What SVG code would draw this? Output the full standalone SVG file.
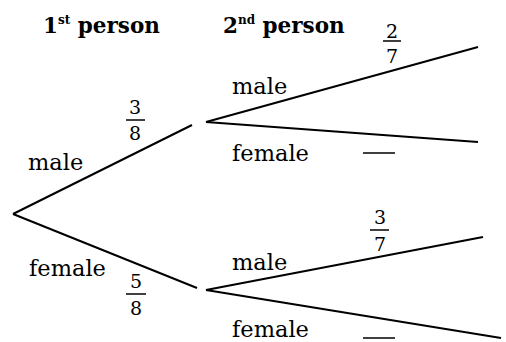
<svg xmlns="http://www.w3.org/2000/svg" width="506" height="342" viewBox="0 0 506 342">
<style>
text{font-family:"DejaVu Serif",serif;fill:#000}
.h{font-weight:bold;font-size:21.5px}
.sup{font-size:12px}
.l{font-size:22.5px}
.n{font-size:19px;text-anchor:middle}
line{stroke:#000;stroke-width:2;stroke-linecap:butt}
.bar{stroke-width:1.5}
</style>
<rect width="506" height="342" fill="#fff"/>
<g id="headers">
<text class="h" x="43" y="33">1<tspan class="sup" dy="-9">st</tspan><tspan dy="9"> person</tspan></text>
<text class="h" x="223" y="33">2<tspan class="sup" dy="-9">nd</tspan><tspan dy="9"> person</tspan></text>
</g>
<g id="connectors">
<line x1="13" y1="214" x2="192" y2="125"/>
<line x1="13" y1="214" x2="197" y2="288"/>
<line x1="206" y1="122" x2="478" y2="47"/>
<line x1="206" y1="122" x2="478" y2="142"/>
<line x1="206" y1="290" x2="483" y2="237"/>
<line x1="206" y1="290" x2="501" y2="338"/>
</g>
<g id="root-male">
<text class="l" x="28" y="170">male</text>
<text class="n" x="135" y="114">3</text>
<line class="bar" x1="126" y1="120" x2="145" y2="120"/>
<text class="n" x="135" y="140">8</text>
</g>
<g id="root-female">
<text class="l" x="29" y="276">female</text>
<text class="n" x="136" y="288">5</text>
<line class="bar" x1="126" y1="294" x2="146" y2="294"/>
<text class="n" x="136" y="315">8</text>
</g>
<g id="male-male">
<text class="l" x="232" y="94">male</text>
<text class="n" x="392" y="38">2</text>
<line class="bar" x1="383" y1="41" x2="401" y2="41"/>
<text class="n" x="392" y="63">7</text>
</g>
<g id="male-female">
<text class="l" x="232" y="161">female</text>
<line class="bar" x1="363" y1="153" x2="395" y2="153"/>
</g>
<g id="female-male">
<text class="l" x="232" y="270">male</text>
<text class="n" x="380" y="224">3</text>
<line class="bar" x1="370" y1="230" x2="389" y2="230"/>
<text class="n" x="380" y="251">7</text>
</g>
<g id="female-female">
<text class="l" x="232" y="337">female</text>
<line class="bar" x1="363" y1="338" x2="395" y2="338"/>
</g>
</svg>
